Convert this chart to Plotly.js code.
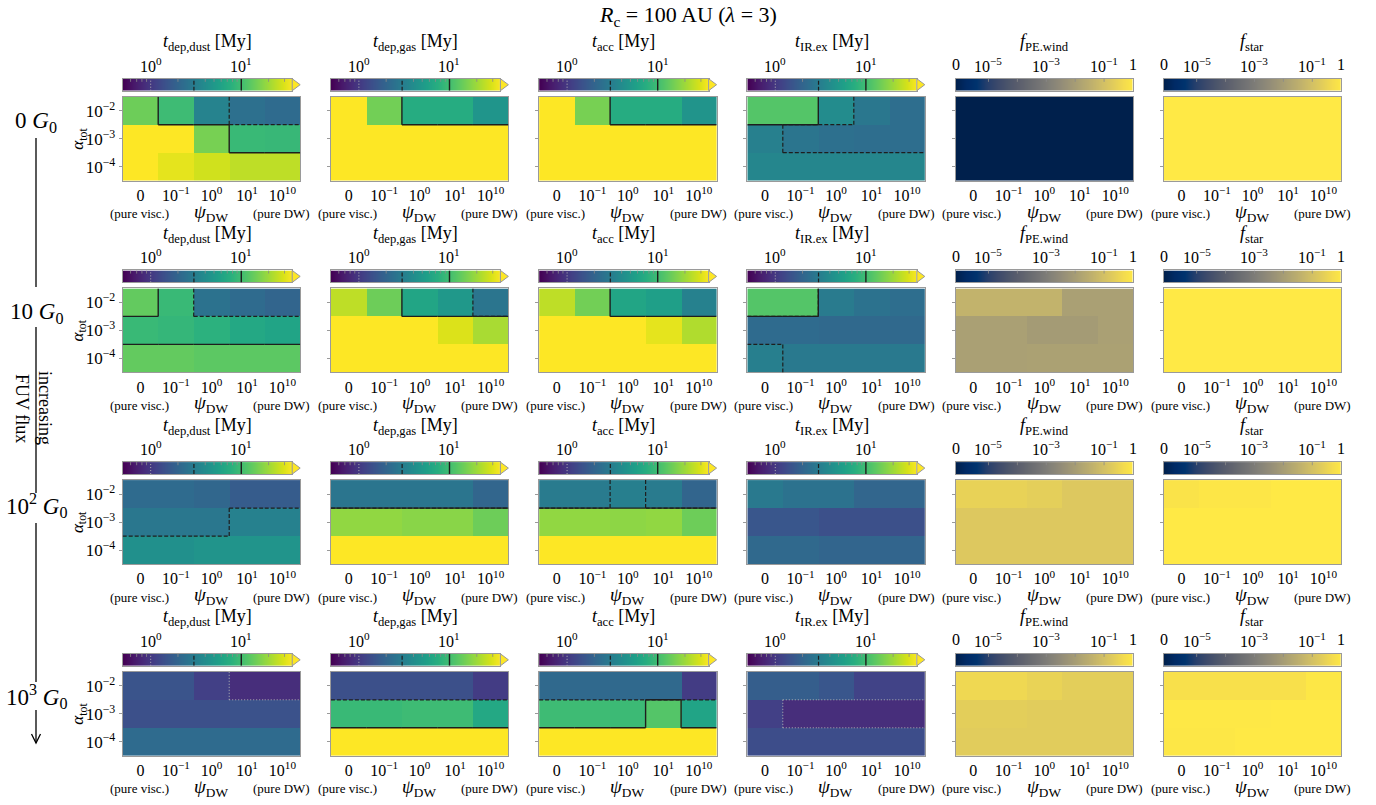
<!DOCTYPE html>
<html>
<head>
<meta charset="utf-8">
<script src="https://cdn.plot.ly/plotly-3.0.1.min.js"></script>
<style>html,body{margin:0;padding:0;background:#fff;overflow:hidden}#chart{width:1376px;height:805px}</style>
</head>
<body>
<div id="chart"></div>
<script>
// ---------------- labels ----------------
const psiLabels = ['0', '10<sup>−1</sup>', '10<sup>0</sup>', '10<sup>1</sup>', '10<sup>10</sup>'];
const alphaLabels = ['10<sup>−2</sup>', '10<sup>−3</sup>', '10<sup>−4</sup>'];
const fuvLabels = ['0 <i>G</i><sub>0</sub>', '10 <i>G</i><sub>0</sub>', '10<sup>2</sup> <i>G</i><sub>0</sub>', '10<sup>3</sup> <i>G</i><sub>0</sub>'];
const quantityTitles = ['<i>t</i><sub>dep,dust</sub> [My]', '<i>t</i><sub>dep,gas</sub> [My]', '<i>t</i><sub>acc</sub> [My]', '<i>t</i><sub>IR.ex</sub> [My]', '<i>f</i><sub>PE.wind</sub>', '<i>f</i><sub>star</sub>'];
const timeTickValues = [1, 10];
const timeTickLabels = ['10<sup>0</sup>', '10<sup>1</sup>'];
const timeMinorTicks = [0.6, 0.7, 0.8, 0.9, 2, 4, 5, 6, 7, 8, 9, 20, 30];
const fracTickValues = [0, 1e-5, 1e-3, 1e-1, 1];
const fracTickLabels = ['0', '10<sup>−5</sup>', '10<sup>−3</sup>', '10<sup>−1</sup>', '1'];
const fracMinorTicks = [1e-5, 1e-4, 1e-3, 1e-2, 1e-1];
const timeContourLevels = [1, 3, 10];

// ---------------- data: rows = alpha_tot (1e-2, 1e-3, 1e-4), cols = psi_DW ----------------
// times in My, fractions dimensionless
// 0 G0
const tDepDust_0G0 = [[14, 9.5, 3.3, 2.4, 2.2], [40, 40, 15, 9, 8.8], [40, 31, 27, 24, 24]];
const tDepGas_0G0  = [[40, 14.5, 7, 7, 4.6], [40, 40, 40, 40, 40], [40, 40, 40, 40, 40]];
const tAcc_0G0     = [[40, 15, 7, 7, 4.5], [40, 40, 40, 40, 40], [40, 40, 40, 40, 40]];
const tIRex_0G0    = [[11.5, 11.5, 3.9, 2.7, 2.3], [3.15, 2.6, 2.4, 2.3, 2.3], [3.5, 3.5, 3.5, 3.5, 3.5]];
const fPEwind_0G0  = [[0, 0, 0, 0, 0], [0, 0, 0, 0, 0], [0, 0, 0, 0, 0]];
const fStar_0G0    = [[1, 1, 1, 1, 1], [1, 1, 1, 1, 1], [1, 1, 1, 1, 1]];
// 10 G0
const tDepDust_10G0 = [[13, 9, 2.5, 2.2, 1.95], [9, 8.5, 7.7, 6.5, 6], [13, 13, 12.4, 12.4, 12.4]];
const tDepGas_10G0  = [[24, 14, 6.2, 4.8, 2.6], [40, 40, 40, 29, 21], [40, 40, 40, 40, 40]];
const tAcc_10G0     = [[24, 14.5, 6.2, 5.5, 3.2], [40, 40, 40, 31, 22], [40, 40, 40, 40, 40]];
const tIRex_10G0    = [[11.5, 11.5, 2.9, 2.5, 2.3], [2.2, 2.2, 2.1, 2.1, 2.1], [3.1, 2.8, 2.8, 2.8, 2.8]];
const fPEwind_10G0  = [[0.04, 0.04, 0.04, 0.011, 0.011], [0.011, 0.011, 0.008, 0.008, 0.011], [0.011, 0.011, 0.012, 0.012, 0.012]];
const fStar_10G0    = [[1, 1, 1, 1, 1], [1, 1, 1, 1, 1], [1, 1, 1, 1, 1]];
// 10^2 G0
const tDepDust_100G0 = [[2.2, 2.2, 2.05, 1.7, 1.7], [2.7, 2.7, 2.7, 3.2, 3.2], [4.2, 4.2, 4.5, 4.5, 4.5]];
const tDepGas_100G0  = [[2.6, 2.6, 2.6, 2.6, 2.0], [18, 18, 17, 17, 14], [40, 40, 40, 40, 40]];
const tAcc_100G0     = [[2.9, 2.9, 3.1, 2.9, 1.95], [18, 18, 17.5, 18, 14], [40, 40, 40, 40, 40]];
const tIRex_100G0    = [[2.8, 2.5, 2.5, 2.0, 2.0], [1.55, 1.55, 1.4, 1.4, 1.4], [2.1, 2.1, 1.95, 1.95, 1.95]];
const fPEwind_100G0  = [[0.26, 0.26, 0.22, 0.15, 0.15], [0.15, 0.15, 0.15, 0.15, 0.15], [0.15, 0.15, 0.15, 0.15, 0.15]];
const fStar_100G0    = [[0.7, 0.85, 0.85, 1, 1], [1, 1, 1, 1, 1], [1, 1, 1, 1, 1]];
// 10^3 G0
const tDepDust_1000G0 = [[1.5, 1.5, 1.1, 0.85, 0.85], [1.4, 1.4, 1.4, 1.45, 1.45], [2.2, 2.2, 2.2, 2.2, 2.2]];
const tDepGas_1000G0  = [[1.4, 1.4, 1.4, 1.4, 1.05], [9, 9, 9.5, 9.5, 6.5], [40, 40, 40, 40, 40]];
const tAcc_1000G0     = [[2.1, 2.1, 2.1, 2.1, 1.05], [9.5, 9.5, 9.3, 11.5, 6], [40, 40, 40, 40, 40]];
const tIRex_1000G0    = [[1.75, 1.75, 1.55, 1.16, 1.16], [1.1, 0.85, 0.85, 0.85, 0.85], [1.35, 1.35, 1.35, 1.35, 1.35]];
const fPEwind_1000G0  = [[0.37, 0.37, 0.28, 0.21, 0.21], [0.21, 0.21, 0.19, 0.19, 0.19], [0.19, 0.19, 0.19, 0.19, 0.19]];
const fStar_1000G0    = [[0.6, 0.6, 0.6, 0.6, 0.9], [0.95, 0.95, 0.95, 1, 1], [0.9, 0.9, 1, 1, 1]];

const panelRows = [
  [tDepDust_0G0, tDepGas_0G0, tAcc_0G0, tIRex_0G0, fPEwind_0G0, fStar_0G0],
  [tDepDust_10G0, tDepGas_10G0, tAcc_10G0, tIRex_10G0, fPEwind_10G0, fStar_10G0],
  [tDepDust_100G0, tDepGas_100G0, tAcc_100G0, tIRex_100G0, fPEwind_100G0, fStar_100G0],
  [tDepDust_1000G0, tDepGas_1000G0, tAcc_1000G0, tIRex_1000G0, fPEwind_1000G0, fStar_1000G0]
];

// ---------------- geometry / style ----------------
const W = 1376, H = 805;
const PANEL_W = 177.5, PANEL_H = 84;
const COL0 = 122.7, COL_STEP = 208.2, ROW0 = 96.7, ROW_STEP = 191.7;
const T_BAR_W = 169.5;
const T_LOG_MIN = -0.309, T_LOG_MAX = 1.562;
const F_LOG_FLOOR = -6.14;
const SERIF = 'Liberation Serif, DejaVu Serif, Times New Roman, serif';
const INK = '#1e1e1e';
const FRAME = '#9a9a9a';
const px = x => x / W;
const py = y => 1 - y / H;
function fracPos(f) {
  if (f <= 0) return 0;
  return Math.min(1, Math.max(0, (Math.log10(f) - F_LOG_FLOOR) / (-F_LOG_FLOOR)));
}
const axName = n => (n === 1 ? '' : String(n));

const traces = [], shapes = [], annotations = [];
const layout = {
  width: W, height: H,
  margin: {l: 0, r: 0, t: 0, b: 0, autoexpand: false},
  paper_bgcolor: '#fff', plot_bgcolor: '#fff',
  showlegend: false,
  font: {family: SERIF, color: '#000'},
  shapes: shapes, annotations: annotations
};

function txt(x, y, text, size, extra) {
  annotations.push(Object.assign({
    xref: 'paper', yref: 'paper', x: px(x), y: py(y), text: text, showarrow: false,
    xanchor: 'center', yanchor: 'middle', font: {family: SERIF, size: size, color: '#000'}
  }, extra || {}));
}

panelRows.forEach((row, r) => {
  const T = ROW0 + r * ROW_STEP;
  row.forEach((vals, c) => {
    const k = r * 6 + c;
    const sH = axName(2 * k + 1), sB = axName(2 * k + 2);
    const L = COL0 + c * COL_STEP;
    const isTime = c < 4;
    const zmin = isTime ? T_LOG_MIN : 0, zmax = isTime ? T_LOG_MAX : 1;
    const cs = isTime ? 'Viridis' : 'Cividis';
    const toZ = isTime ? (v => Math.log10(v)) : fracPos;

    // ---- main heatmap ----
    traces.push({
      type: 'heatmap', x: [0, 1, 2, 3, 4], y: [0, 1, 2],
      z: vals.map(rw => rw.map(toZ)),
      xaxis: 'x' + sH, yaxis: 'y' + sH,
      colorscale: cs, zmin: zmin, zmax: zmax, showscale: false, hoverinfo: 'skip'
    });
    layout['xaxis' + sH] = {
      domain: [px(L), px(L + PANEL_W)], anchor: 'y' + sH, range: [-0.5, 4.5],
      tickmode: 'array', tickvals: [0, 1, 2, 3, 4], ticktext: psiLabels, ticks: '',
      showgrid: false, zeroline: false, showline: true, mirror: true, linecolor: FRAME, linewidth: 1,
      tickfont: {family: SERIF, size: 16, color: '#000'}, fixedrange: true
    };
    layout['yaxis' + sH] = {
      domain: [py(T + PANEL_H), py(T)], anchor: 'x' + sH, range: [2.5, -0.5],
      tickmode: 'array', tickvals: [0, 1, 2], ticktext: alphaLabels, showticklabels: c === 0,
      ticks: 'outside', ticklen: 3, tickcolor: FRAME,
      showgrid: false, zeroline: false, showline: true, mirror: true, linecolor: FRAME, linewidth: 1,
      tickfont: {family: SERIF, size: 17, color: '#000'}, fixedrange: true
    };

    // ---- colour bar (own small axes) ----
    const barLen = isTime ? T_BAR_W : PANEL_W;
    traces.push({
      type: 'heatmap', x: [zmin, zmax], y: [0, 1], z: [[zmin, zmax], [zmin, zmax]], zsmooth: 'best',
      xaxis: 'x' + sB, yaxis: 'y' + sB, colorscale: cs, zmin: zmin, zmax: zmax, showscale: false, hoverinfo: 'skip'
    });
    layout['xaxis' + sB] = {
      domain: [px(L), px(L + barLen)], anchor: 'y' + sB, range: [zmin, zmax],
      showticklabels: false, ticks: '', showgrid: false, zeroline: false,
      showline: true, mirror: true, linecolor: FRAME, linewidth: 1, fixedrange: true
    };
    layout['yaxis' + sB] = {
      domain: [py(T - 6), py(T - 18)], anchor: 'x' + sB, range: [0, 1],
      showticklabels: false, ticks: '', showgrid: false, zeroline: false,
      showline: true, mirror: true, linecolor: FRAME, linewidth: 1, fixedrange: true
    };
    // minor ticks on colour bar
    (isTime ? timeMinorTicks : fracMinorTicks).forEach(v => {
      shapes.push({type: 'line', xref: 'x' + sB, yref: 'y' + sB, x0: toZ(v), x1: toZ(v), y0: 1, y1: 0.74,
        line: {color: '#8a8a8a', width: 0.8}});
    });
    // tick labels of colour bar
    const tv = isTime ? timeTickValues : fracTickValues;
    const tl = isTime ? timeTickLabels : fracTickLabels;
    tv.forEach((v, i) => {
      annotations.push({xref: 'x' + sB, yref: 'paper', x: toZ(v), y: py(T - 32), text: tl[i], showarrow: false,
        xanchor: 'center', yanchor: 'middle', font: {family: SERIF, size: 16, color: '#000'}});
    });
    // title of colour bar
    txt(L + barLen / 2, T - 54, quantityTitles[c], 18);

    if (isTime) {
      // extend-max triangle
      shapes.push({type: 'path', xref: 'paper', yref: 'paper',
        path: 'M ' + px(L + T_BAR_W) + ',' + py(T - 18) + ' L ' + px(L + PANEL_W) + ',' + py(T - 12) + ' L ' + px(L + T_BAR_W) + ',' + py(T - 6) + ' Z',
        fillcolor: '#fde725', line: {color: FRAME, width: 1}});
      // contour levels: cell-edge boundaries computed from the data
      const styles = [
        {level: timeContourLevels[0], color: '#b4b4b4', dash: '1px,2px', width: 1},
        {level: timeContourLevels[1], color: INK, dash: '4px,2px', width: 1.2},
        {level: timeContourLevels[2], color: INK, dash: 'solid', width: 1.4}
      ];
      styles.forEach(st => {
        for (let i = 0; i < 3; i++) {
          for (let j = 0; j < 5; j++) {
            const a = vals[i][j] >= st.level;
            if (j < 4 && a !== (vals[i][j + 1] >= st.level)) {
              shapes.push({type: 'line', xref: 'x' + sH, yref: 'y' + sH, x0: j + 0.5, x1: j + 0.5, y0: i - 0.5, y1: i + 0.5,
                line: {color: st.color, width: st.width, dash: st.dash}});
            }
            if (i < 2 && a !== (vals[i + 1][j] >= st.level)) {
              shapes.push({type: 'line', xref: 'x' + sH, yref: 'y' + sH, x0: j - 0.5, x1: j + 0.5, y0: i + 0.5, y1: i + 0.5,
                line: {color: st.color, width: st.width, dash: st.dash}});
            }
          }
        }
        shapes.push({type: 'line', xref: 'x' + sB, yref: 'y' + sB, x0: Math.log10(st.level), x1: Math.log10(st.level), y0: 0, y1: 1,
          line: {color: st.color, width: st.width, dash: st.dash}});
      });
    }

    // x-axis title pieces
    txt(L + 16.3, T + 117, '(pure visc.)', 13);
    txt(L + 88, T + 116, '<i>ψ</i><sub>DW</sub>', 19);
    txt(L + 159, T + 117, '(pure DW)', 13);
    if (c === 0) {
      txt(79, T + 42, '<i>α</i><sub>tot</sub>', 17, {textangle: -90});
    }
  });
  // FUV row label
  txt(36, T + 25, fuvLabels[r], 23);
});

// main title
txt(688, 16, '<i>R</i><sub>c</sub> = 100 AU (<i>λ</i> = 3)', 22);

// left "increasing FUV flux" arrow
const arrowSegments = [[138, 287], [327, 493], [523, 682], [710, 743]];
arrowSegments.forEach(s => {
  shapes.push({type: 'line', xref: 'paper', yref: 'paper', x0: px(36), x1: px(36), y0: py(s[0]), y1: py(s[1]),
    line: {color: '#000', width: 1.3}});
});
shapes.push({type: 'path', xref: 'paper', yref: 'paper',
  path: 'M ' + px(31.5) + ',' + py(734) + ' L ' + px(36) + ',' + py(743) + ' L ' + px(40.5) + ',' + py(734),
  line: {color: '#000', width: 1.3}});
txt(45, 408, 'increasing', 18, {textangle: 90});
txt(22, 408, 'FUV flux', 18, {textangle: 90});

Plotly.newPlot('chart', traces, layout, {displayModeBar: false, staticPlot: true});
</script>
</body>
</html>
